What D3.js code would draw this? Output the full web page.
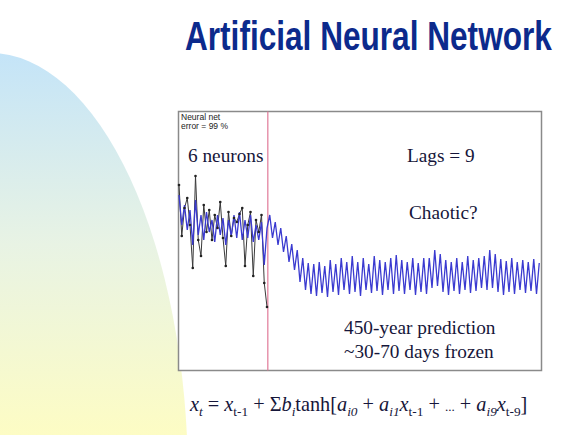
<!DOCTYPE html>
<html><head><meta charset="utf-8">
<script src="https://cdn.jsdelivr.net/npm/d3@7"></script>
<style>html,body{margin:0;padding:0;background:#fff;}svg{display:block;}</style>
</head><body>
<script>
// observed (days frozen, estimated), indices 0..32
const observed = [140,89,117,127,100,57,149,85,69,120,93,115,85,110,97,123,87,59,113,89,107,103,111,117,59,100,113,49,105,93,110,42,18];
// neural net model + prediction, indices 0..131
const model = [130,100,120,95,115,80,125,90,110,85,113,93,105,83,110,90,107,80,105,89,110,87,113,85,105,87,110,83,100,85,103,60,97,
110,87,103,80,97,73,89,63,81,55,75,43,67,35,62,31,61,29,63,32,59,28,65,33,61,30,67,35,63,31,69,33,63,29,67,35,61,32,69,34,65,30,63,35,67,31,70,34,65,31,63,35,67,30,62,33,67,31,67,37,75,39,71,33,65,30,63,34,67,31,63,35,69,32,65,34,67,37,69,35,75,37,71,33,66,30,64,33,67,31,63,35,65,32,63,34,66,31,62];
const splitIndex = 32.3;
const labels = {net: ["Neural net", "error = 99 %"], neurons: "6 neurons", lags: "Lags = 9", chaotic: "Chaotic?", pred: ["450-year prediction", "~30-70 days frozen"]};

const W = 580, H = 435;
const svg = d3.select("body").append("svg").attr("width", W).attr("height", H);
const defs = svg.append("defs");
const grad = defs.append("linearGradient").attr("id","bg").attr("gradientUnits","userSpaceOnUse")
  .attr("x1",0).attr("y1",53).attr("x2",0).attr("y2",435);
grad.append("stop").attr("offset","0%").attr("stop-color","#c4e4f8");
grad.append("stop").attr("offset","50%").attr("stop-color","#e8f3e4");
grad.append("stop").attr("offset","100%").attr("stop-color","#fdfcc4");
svg.append("ellipse").attr("cx",-10).attr("cy",480).attr("rx",198).attr("ry",427).attr("fill","url(#bg)");

// title: condensed look via horizontal scale so it spans the reference width
const tg = svg.append("g").attr("transform","translate(185,50)");
const title = tg.append("text").attr("x",0).attr("y",0).attr("font-family","'Liberation Sans',Arial,sans-serif")
  .attr("font-weight","bold").attr("font-size",40).attr("fill","#0c2a8c").text("Artificial Neural Network");
const tl = title.node().getComputedTextLength();
if (tl > 0) tg.attr("transform", `translate(185,50) scale(${367/tl},1)`);

// chart box
const box = {x0:178.5, y0:111.5, x1:541.5, y1:370.5};
svg.append("rect").attr("x",box.x0).attr("y",box.y0).attr("width",box.x1-box.x0).attr("height",box.y1-box.y0)
  .attr("fill","#fff").attr("stroke","#8a8a8a").attr("stroke-width",1.5);

const x = d3.scaleLinear().domain([0,131]).range([179,539.25]);
const y = d3.scaleLinear().domain([-46,214]).range([371,111]);

svg.append("line").attr("x1",x(splitIndex)).attr("x2",x(splitIndex)).attr("y1",box.y0).attr("y2",box.y1)
  .attr("stroke","#e07a98").attr("stroke-width",1.2);

const line = d3.line().x((d,i)=>x(i)).y(d=>y(d));
svg.append("path").datum(observed).attr("d",line).attr("fill","none").attr("stroke","#3a3a3a").attr("stroke-width",1);
svg.append("path").datum(model).attr("d",line).attr("fill","none").attr("stroke","#3a3ad0").attr("stroke-width",1.3);
svg.selectAll("circle.obs").data(observed).join("circle").attr("class","obs")
  .attr("cx",(d,i)=>x(i)).attr("cy",d=>y(d)).attr("r",1.3).attr("fill","#222");

// small label
const sm = svg.append("text").attr("font-family","'Liberation Sans',Arial,sans-serif").attr("font-size",8.5).attr("fill","#222");
sm.append("tspan").attr("x",181).attr("y",120).text(labels.net[0]);
sm.append("tspan").attr("x",181).attr("y",129).text(labels.net[1]);

const serif = "'Liberation Serif','Times New Roman',serif";
function ann(tx,ty,s){svg.append("text").attr("x",tx).attr("y",ty).attr("font-family",serif).attr("font-size",19.3).attr("fill","#16163a").text(s);}
ann(188,162,labels.neurons);
ann(407,162,labels.lags);
ann(409,219,labels.chaotic);
ann(344,334,labels.pred[0]);
ann(344,358,labels.pred[1]);

// formula
const f = svg.append("text").attr("x",190).attr("y",411).attr("font-family",serif).attr("font-size",20.3).attr("fill","#16163a");
const parts = [
 ["x",1,0],["t",1,1],[" = ",0,0],["x",1,0],["t-1",0,1],[" + Σ",0,0],["b",1,0],["i",1,1],["tanh[",0,0],
 ["a",1,0],["i0",1,1],[" + ",0,0],["a",1,0],["i1",1,1],["x",1,0],["t-1",0,1],[" + ",0,0],["...",0,0],[" + ",0,0],
 ["a",1,0],["i9",1,1],["x",1,0],["t-9",0,1],["]",0,0]
];
let prevSub = 0;
parts.forEach(([t,it,sub])=>{
  const ts = f.append("tspan").text(t);
  if(it) ts.attr("font-style","italic");
  if(sub) ts.attr("font-size",13.3);
  const dy = (sub?5:0) - (prevSub?5:0);
  if(dy) ts.attr("dy",dy);
  if(t==="...") ts.attr("font-size",13);
  prevSub = sub;
});
</script>
</body></html>
